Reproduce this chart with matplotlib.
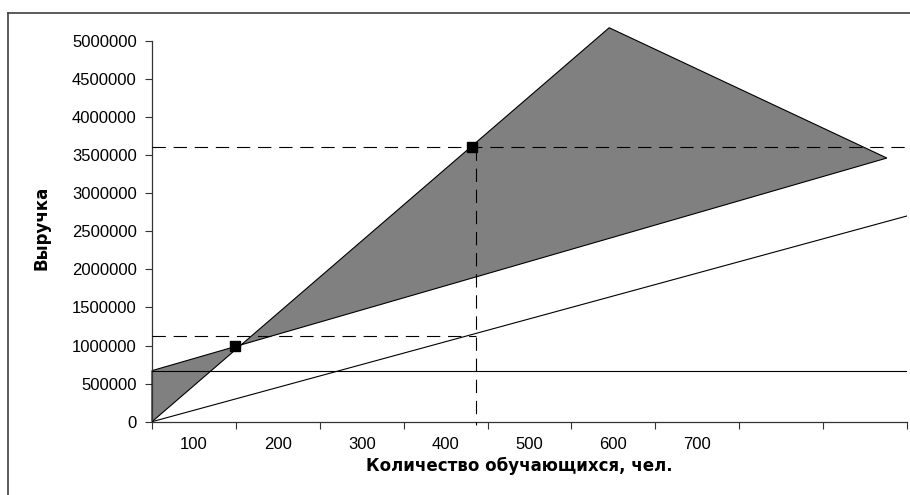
import numpy as np
import matplotlib.pyplot as plt
from matplotlib.lines import Line2D

# -------------------------------
# Data
categories = ['100', '200', '300', '400', '500', '600', '700']
tick_positions = [0, 100, 200, 300, 400, 500, 600, 700, 800, 900]

revenue_x = [0, 545]
revenue_y = [0, 5170000]
total_cost_x = [0, 876]
total_cost_y = [670000, 3460000]
fixed_cost = 670000
variable_cost_x = [0, 900]
variable_cost_y = [0, 2700000]

points_x = [99, 382]
points_y = [1000000, 3600000]
plan_x = 386
plan_revenue = 3600000
plan_var_cost = 1130000

# -------------------------------
plt.rcParams['font.family'] = ['Liberation Sans', 'DejaVu Sans']

fig = plt.figure(figsize=(9.1, 4.95), dpi=100)
ax = fig.add_axes([152 / 910, 1 - 421.7 / 495, (907 - 152) / 910, (421.7 - 40.7) / 495])

# shaded profit / loss region (self-crossing polygon gives both triangles)
poly_x = revenue_x + total_cost_x[::-1]
poly_y = revenue_y + total_cost_y[::-1]
ax.fill(poly_x, poly_y, facecolor='#808080', edgecolor='black', lw=0.8, clip_on=False, zorder=2)

ax.plot([0, 900], [fixed_cost, fixed_cost], color='black', lw=0.8, zorder=3)
ax.plot(variable_cost_x, variable_cost_y, color='black', lw=0.8, zorder=3)

dash = (0, (12, 7))
ax.plot([0, 900], [plan_revenue, plan_revenue], color='black', lw=0.8, ls=dash, zorder=3)
ax.plot([0, plan_x], [plan_var_cost, plan_var_cost], color='black', lw=0.8, ls=dash, zorder=3)
ax.plot([plan_x, plan_x], [plan_revenue, -40000], color='black', lw=0.8, ls=dash,
        clip_on=False, zorder=3)

ax.plot(points_x, points_y, ls='none', marker='s', ms=7, color='black', zorder=4)

ax.set_xlim(0, 900)
ax.set_ylim(0, 5000000)

ax.set_yticks(np.arange(0, 5000001, 500000))
ax.set_yticklabels([str(v) for v in range(0, 5000001, 500000)])
ax.set_xticks(tick_positions)
ax.set_xticklabels([])
ax.set_xticks([50 + 100 * i for i in range(len(categories))], minor=True)
ax.set_xticklabels(categories, minor=True)

ax.tick_params(axis='both', which='major', direction='out', length=5, width=0.8,
               color='#333333', labelsize=12, pad=6)
ax.tick_params(axis='x', which='minor', length=0, labelsize=12, pad=11)

for s in ['top', 'right']:
    ax.spines[s].set_visible(False)
for s in ['left', 'bottom']:
    ax.spines[s].set_color('#333333')
    ax.spines[s].set_linewidth(0.9)

ax.set_xlabel('Количество обучающихся, чел.', fontsize=12, fontweight='bold',
              family=['DejaVu Sans'])
ax.xaxis.set_label_coords((519 - 152) / 755, -(457 - 421.7) / 381)
ax.set_ylabel('Выручка', fontsize=12, fontweight='bold', family=['DejaVu Sans'])
ax.yaxis.set_label_coords(-(152 - 50) / 755, (421.7 - 228) / 381)

# outer chart frame (only left and top edges are visible)
fig.add_artist(Line2D([8 / 910, 8 / 910], [0, 1 - 13 / 495], color='#404040', lw=1.2))
fig.add_artist(Line2D([8 / 910, 1], [1 - 13 / 495, 1 - 13 / 495], color='#404040', lw=1.2))

fig.savefig('out.png', dpi=100)
